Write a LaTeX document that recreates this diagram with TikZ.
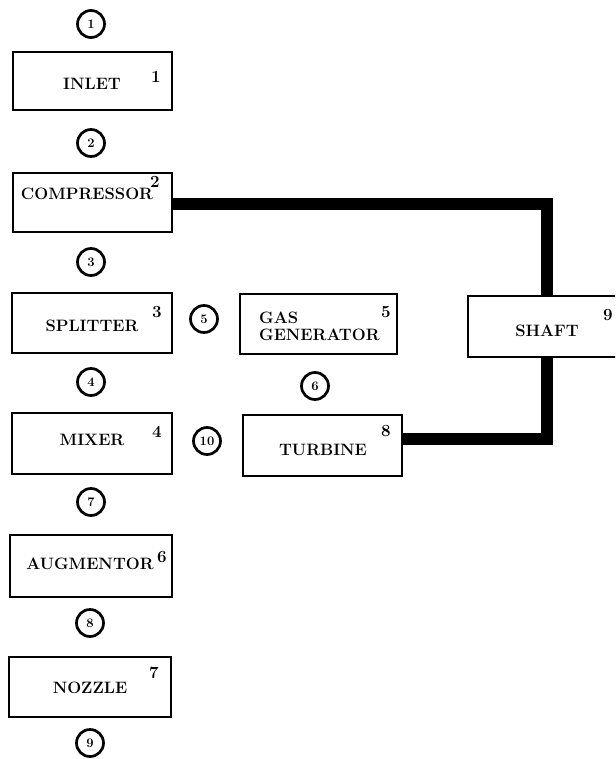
\documentclass[tikz,border=0pt]{standalone}
\begin{document}
\begin{tikzpicture}[x=1pt,y=-1pt,
  comp/.style={draw,line width=2.8pt,rectangle,inner sep=0pt},
  lbl/.style={inner sep=0pt,font=\fontsize{16.5}{19}\selectfont\bfseries},
  num/.style={inner sep=0pt,font=\fontsize{17}{19}\selectfont\bfseries},
  stn/.style={draw,circle,line width=2.7pt,minimum size=27pt,inner sep=0pt,font=\fontsize{13}{14}\selectfont\bfseries},
  shaftline/.style={line width=12.5pt}]
\clip (0,0) rectangle (615,759);
\fill[white] (0,0) rectangle (615,759);
% component boxes
\node[comp,minimum width=159pt,minimum height=58pt] (inlet) at (92.5,81) {};
\node[comp,minimum width=159pt,minimum height=59pt] (compr) at (92.5,202.5) {};
\node[comp,minimum width=160pt,minimum height=60pt] (split) at (92,323) {};
\node[comp,minimum width=160pt,minimum height=61pt] (mixer) at (92,443.5) {};
\node[comp,minimum width=162pt,minimum height=62pt] (augm) at (91,566) {};
\node[comp,minimum width=162pt,minimum height=60pt] (nozz) at (90,687) {};
\node[comp,minimum width=157pt,minimum height=60pt] (gasgen) at (318.5,324) {};
\node[comp,minimum width=159pt,minimum height=61pt] (turb) at (322.5,445.5) {};
\node[comp,minimum width=158pt,minimum height=61pt] (shaft) at (547,326.5) {};
% labels
\node[lbl] (tinlet) at (92,84) {INLET};
\node[lbl] (tcompr) at (87,194) {COMPRESSOR};
\node[lbl] (tsplit) at (92,326) {SPLITTER};
\node[lbl] (tmixer) at (92,440) {MIXER};
\node[lbl] (taugm) at (90,564) {AUGMENTOR};
\node[lbl] (tnozz) at (90,688) {NOZZLE};
\node[lbl,anchor=west,align=left,font=\fontsize{16.5}{17}\selectfont\bfseries] (tgas) at (259,326) {GAS\\GENERATOR};
\node[lbl] (tturb) at (323,450) {TURBINE};
\node[lbl] (tshaft) at (547,331) {SHAFT};
% component numbers
\node[num] (n1) at (156,77) {1};
\node[num] (n2) at (155,182) {2};
\node[num] (n3) at (157,312) {3};
\node[num] (n4) at (157,432) {4};
\node[num] (n5) at (386,312) {5};
\node[num] (n6) at (162,557) {6};
\node[num] (n7) at (154,673) {7};
\node[num] (n8) at (386,431) {8};
\node[num] (n9) at (608,315) {9};
% station circles
\node[stn] (s1) at (91,24) {1};
\node[stn] (s2) at (91,143) {2};
\node[stn] (s3) at (91,262) {3};
\node[stn] (s4) at (91,382) {4};
\node[stn] (s5) at (204,319) {5};
\node[stn] (s6) at (315,386) {6};
\node[stn] (s7) at (91,502) {7};
\node[stn] (s8) at (90,623) {8};
\node[stn] (s9) at (90,743) {9};
\node[stn] (s10) at (207,441) {10};
% shaft connections
\draw[shaftline] ([yshift=-1.5pt]compr.east) -| (shaft.north);
\draw[shaftline] ([yshift=6.5pt]turb.east) -| (shaft.south);
\end{tikzpicture}
\end{document}
